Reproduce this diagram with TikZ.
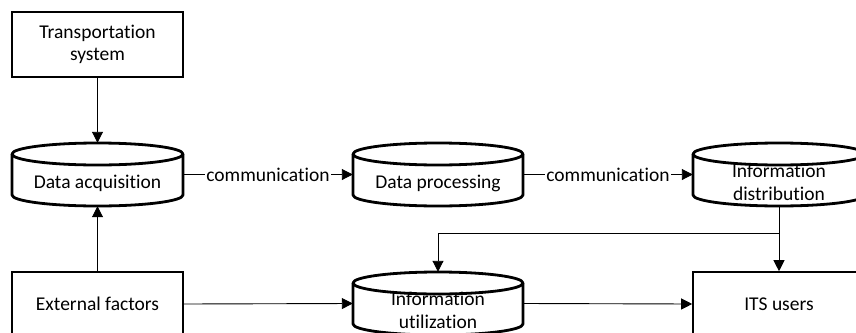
\documentclass[tikz,border=0pt]{standalone}
\usepackage{fontspec}
\setmainfont{Carlito}[Ligatures={NoCommon}]
\usetikzlibrary{arrows.meta}
\begin{document}
\begin{tikzpicture}[x=1pt,y=-1pt,
  font=\fontsize{19.5}{22.5}\selectfont,
  boxnode/.style={draw=black,line width=1.6pt,fill=white,inner sep=0pt,align=center},
  cylframe/.style={inner sep=0pt},
  cylline/.style={line width=2.8pt,line join=round},
  txt/.style={inner sep=0pt,align=center},
  arr/.style={line width=0.9pt,-{Triangle[length=11pt,width=11pt]}},
  lbl/.style={fill=white,inner sep=1pt}]
\useasboundingbox (0,0) rectangle (856,332);
\clip (0,0) rectangle (856,332);
% boxes
\node[boxnode,minimum width=171pt,minimum height=65pt] (ts) at (97.5,44.5) {Transportation\\system};
\node[boxnode,minimum width=171pt,minimum height=64pt] (ef) at (97.5,304) {External factors};
\node[boxnode,minimum width=172pt,minimum height=64pt] (its) at (779,304) {ITS users};
% cylinder frames (named)
\node[cylframe,minimum width=171pt,minimum height=63pt] (da) at (97.5,174.5) {};
\node[cylframe,minimum width=170pt,minimum height=63pt] (dp) at (438,174.5) {};
\node[cylframe,minimum width=172pt,minimum height=63pt] (id) at (779,174.5) {};
\node[cylframe,minimum width=170pt,minimum height=63pt] (iu) at (438,303.5) {};
% cylinder drawings
\foreach \a/\b/\t in {12/183/143, 353/523/143, 693/865/143, 353/523/272}{
  \pgfmathsetmacro{\c}{(\a+\b)/2}
  \pgfmathsetmacro{\rx}{(\b-\a)/2}
  \draw[cylline,fill=white] (\a,\t+11) -- (\a,\t+52) arc[start angle=180,end angle=0,x radius=\rx,y radius=11] -- (\b,\t+11);
  \draw[cylline] (\c,\t+11) ellipse[x radius=\rx,y radius=11];
}
% cylinder texts
\node[txt] at ([yshift=-9pt]da.center) {Data acquisition};
\node[txt] at ([yshift=-9pt]dp.center) {Data processing};
\node[txt] at ([yshift=-8pt]id.center) {Information\\distribution};
\node[txt] at ([yshift=-7pt]iu.center) {Information\\utilization};
% connectors
\draw[arr] (ts.south) -- (da.north);
\draw[arr] (ef.north) -- (da.south);
\draw[arr] (da.east) -- node[lbl,pos=0.5] {communication} (dp.west);
\draw[arr] (dp.east) -- node[lbl,pos=0.5] {communication} (id.west);
\draw[arr] (id.south) -- (its.north);
\coordinate (j) at (779,233);
\draw[arr] (j) -| (iu.north);
\draw[arr] (ef.east) -- (iu.west);
\draw[arr] (iu.east) -- (its.west);
\end{tikzpicture}
\end{document}
